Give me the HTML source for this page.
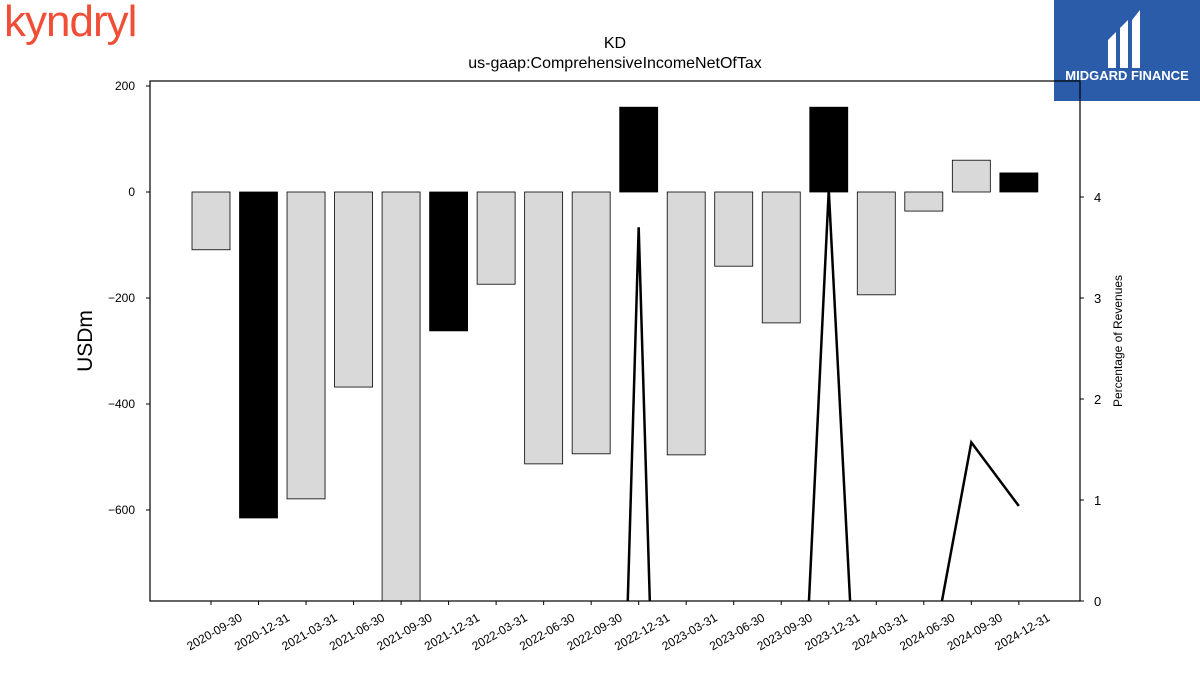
<!DOCTYPE html>
<html><head><meta charset="utf-8"><style>
html,body{margin:0;background:#fff;font-family:"Liberation Sans","DejaVu Sans",sans-serif;width:1200px;height:675px;overflow:hidden;}
#wrap{position:relative;width:1200px;height:675px;overflow:hidden;}
</style></head><body>
<div id="wrap">
<div style="position:absolute;left:4px;top:-4px;font-size:44px;line-height:52px;color:#f04e37;letter-spacing:-1px;">kyndryl</div>
<div style="position:absolute;left:1054px;top:0;width:146px;height:101px;background:#2a5caa;color:#fff;">
<svg width="146" height="70"><path d="M54 40 L62 32 L62 68 L54 68 Z M66 28 L74 20 L74 68 L66 68 Z M78 20 L86 10 L86 68 L78 68 Z" fill="#fff"/></svg>
<div style="position:absolute;left:0;width:146px;top:68px;text-align:center;font-weight:bold;font-size:13px;">MIDGARD FINANCE</div></div>
<svg id="chart" width="1200" height="675" style="position:absolute;left:0;top:0"></svg>
</div>
<script>
const categories=["2020-09-30","2020-12-31","2021-03-31","2021-06-30","2021-09-30","2021-12-31","2022-03-31","2022-06-30","2022-09-30","2022-12-31","2023-03-31","2023-06-30","2023-09-30","2023-12-31","2024-03-31","2024-06-30","2024-09-30","2024-12-31"];
const incomeValues=[-109,-615,-579,-368,-800,-262,-174,-513,-494,160,-496,-140,-247,160,-194,-36,60,36];
const highlighted=[false,true,false,false,false,true,false,false,false,true,false,false,false,true,false,false,false,true];
const pctValues=[-8,-8,-8,-8,-8,-8,-8,-8,-12.4,3.70,-12.1,-8,-5.7,4.07,-5.0,-0.97,1.57,0.94];
const leftTicks=[200,0,-200,-400,-600];
const rightTicks=[0,1,2,3,4];
const NS="http://www.w3.org/2000/svg";
const svg=document.getElementById('chart');
const L=150,R=1080,T=81,B=601;
const yL=v=>192-v*0.53;
const yR=v=>601-v*101;
const xC=i=>211+i*47.52;
function mk(t,a,p){const e=document.createElementNS(NS,t);for(const k in a)e.setAttribute(k,a[k]);(p||svg).appendChild(e);return e;}
const defs=mk('defs',{});const cp=mk('clipPath',{id:'clip'},defs);mk('rect',{x:L,y:T,width:R-L,height:B-T},cp);
const g=mk('g',{'clip-path':'url(#clip)'});
categories.forEach((c,i)=>{const v=incomeValues[i];const y0=yL(0),y1=yL(v);
const r=mk('rect',{x:xC(i)-19,y:Math.min(y0,y1),width:38,height:Math.abs(y1-y0),fill:highlighted[i]?'#000':'#d9d9d9',stroke:'#000','stroke-width':0.8},g);

});
const line=mk('polyline',{points:pctValues.map((v,i)=>xC(i)+','+yR(v)).join(' '),fill:'none',stroke:'#000','stroke-width':2.5},g);


const fr=mk('rect',{x:L,y:T,width:R-L,height:B-T,fill:'none',stroke:'#000','stroke-width':1.2});


leftTicks.forEach(v=>{const y=yL(v);mk('line',{x1:L-4,x2:L,y1:y,y2:y,stroke:'#000'});
const t=mk('text',{x:L-15,y:y+4,'text-anchor':'end','font-size':12});t.textContent=v<0?'\u2212'+(-v):v;

});
rightTicks.forEach(v=>{const y=yR(v);mk('line',{x1:R,x2:R+4,y1:y,y2:y,stroke:'#000'});
const t=mk('text',{x:R+14,y:y+5,'font-size':13});t.textContent=v;

});
categories.forEach((c,i)=>{const x=xC(i);mk('line',{x1:x,x2:x,y1:B,y2:B+4,stroke:'#000'});
const ax=x+32,ay=B+19;
const t=mk('text',{x:ax,y:ay,'text-anchor':'end','font-size':12,transform:`rotate(-30 ${ax} ${ay})`});t.textContent=c;

});
const t1=mk('text',{x:615,y:48,'text-anchor':'middle','font-size':16});t1.textContent='KD';


const t2=mk('text',{x:615,y:68,'text-anchor':'middle','font-size':16});t2.textContent='us-gaap:ComprehensiveIncomeNetOfTax';


const yl=mk('text',{x:92,y:341,'text-anchor':'middle','font-size':21,transform:'rotate(-90 92 341)'});yl.textContent='USDm';


const yr=mk('text',{x:1122,y:341,'text-anchor':'middle','font-size':12,transform:'rotate(-90 1122 341)'});yr.textContent='Percentage of Revenues';


</script>
</body></html>
